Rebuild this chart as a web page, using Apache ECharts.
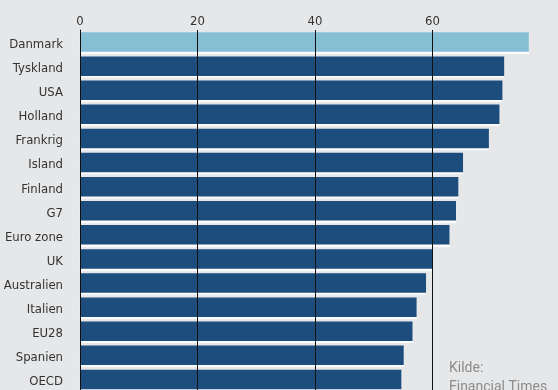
<!DOCTYPE html>
<html>
<head>
<meta charset="utf-8">
<script src="https://cdn.jsdelivr.net/npm/echarts@6/dist/echarts.min.js"></script>
<style>
html,body{margin:0;padding:0;background:#e6e7e9;}
#c{width:558px;height:390px;}
</style>
</head>
<body>
<div id="c"></div>
<script>
var categories = ['Danmark','Tyskland','USA','Holland','Frankrig','Island','Finland','G7','Euro zone','UK','Australien','Italien','EU28','Spanien','OECD'];
var values = [76.4, 72.2, 71.9, 71.4, 69.6, 65.2, 64.4, 64.0, 62.9, 60.0, 58.9, 57.3, 56.6, 55.1, 54.7];
var gridValues = [0, 20, 40, 60];
var highlight = 'Danmark';
var sourceLines = ['Kilde:', 'Financial Times'];

// pick a narrow font that is installed
var ctx = document.createElement('canvas').getContext('2d');
function w(font, t){ ctx.font = font; return ctx.measureText(t).width; }
var probe = 'Danmark Australien';
var candidates = ['Liberation Sans Narrow', 'DejaVu Sans Condensed', 'Roboto'];
var fam = 'sans-serif';
for (var i = 0; i < candidates.length; i++) {
  var f = candidates[i];
  if (w('20px "' + f + '", monospace', probe) !== w('20px monospace', probe) ||
      w('20px "' + f + '", serif', probe) !== w('20px serif', probe)) { fam = '"' + f + '"'; break; }
}
var narrow = fam.indexOf('Narrow') >= 0;
var labelSize = narrow ? 14 : 13;
var labelFont = fam + ', sans-serif';

var chart = echarts.init(document.getElementById('c'));
var data = categories.map(function(c, i){
  return {
    value: values[i],
    itemStyle: { color: c === highlight ? '#86bfd4' : '#1c4d7d' }
  };
});
var gridBase = { left: 80, width: 458.25, height: 361.5, containLabel: false, outerBoundsMode: 'none' };
chart.setOption({
  backgroundColor: '#e6e7e9',
  animation: false,
  grid: [
    Object.assign({ top: 30 }, gridBase),
    Object.assign({ top: 32.5 }, gridBase)
  ],
  xAxis: [{
    type: 'value', gridIndex: 0, position: 'top', min: 0, max: 78, interval: 20,
    axisLine: { show: false }, axisTick: { show: false },
    splitLine: { show: false },
    axisLabel: { showMaxLabel: false, color: '#333', fontSize: labelSize, margin: 2,
      fontFamily: labelFont }
  }, {
    type: 'value', gridIndex: 1, min: 0, max: 78, show: false
  }],
  yAxis: [{
    type: 'category', gridIndex: 0, data: categories, inverse: true,
    axisLine: { show: true, lineStyle: { color: '#1a1a1a', width: 1 } },
    axisTick: { show: false },
    axisLabel: { show: false }
  }, {
    type: 'category', gridIndex: 1, data: categories, inverse: true,
    axisLine: { show: false }, axisTick: { show: false }, splitLine: { show: false },
    axisLabel: { color: '#333', fontSize: labelSize, margin: 17, fontFamily: labelFont }
  }],
  series: [{
    type: 'bar', xAxisIndex: 0, yAxisIndex: 0, data: data, barWidth: 19.5,
    itemStyle: { shadowColor: 'rgba(255,255,255,0.85)', shadowOffsetY: 2, shadowBlur: 1 },
    markLine: {
      silent: true, symbol: 'none', label: { show: false },
      lineStyle: { color: '#111', width: 1, type: 'solid' },
      data: gridValues.map(function(v){ return { xAxis: v }; })
    }
  }],
  graphic: [{
    type: 'text', left: 449, top: 359,
    style: { text: sourceLines.join('\n'), fill: '#8c8c8c', font: '14px Roboto, sans-serif', lineHeight: 19 }
  }]
});
</script>
</body>
</html>
